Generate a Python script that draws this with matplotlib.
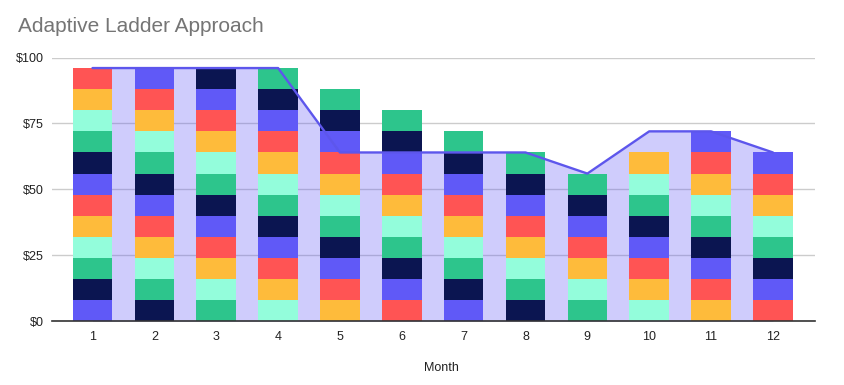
import matplotlib
matplotlib.use("Agg")
import matplotlib.pyplot as plt
import numpy as np

# ---- data ----
months = [1, 2, 3, 4, 5, 6, 7, 8, 9, 10, 11, 12]
month_labels = ["1", "2", "3", "4", "5", "6", "7", "8", "9", "10", "11", "12"]
# rungs held in each month: from first_rung to last_rung (each rung = $8)
first_rung = [1, 2, 3, 4, 5, 6, 7, 8, 9, 10, 11, 12]
last_rung = [12, 13, 14, 15, 15, 15, 15, 15, 15, 17, 19, 19]
rung_amount = 8
target_line = [96, 96, 96, 96, 64, 64, 64, 64, 56, 72, 72, 64]
y_ticks = [0, 25, 50, 75, 100]
y_tick_labels = ["$0", "$25", "$50", "$75", "$100"]
title = "Adaptive Ladder Approach"
x_title = "Month"

# ---- style ----
rung_colors = ["#6059F7", "#0B1551", "#2DC58C", "#93FDDB", "#FEBB3B", "#FF5454"]
line_color = "#5D56EC"

fig = plt.figure(figsize=(8.44, 3.85), dpi=100)
ax = fig.add_axes([52 / 844, (385 - 321.3) / 385, (815 - 52) / 844, (321.3 - 57.5) / 385])

# area behind
ax.fill_between(months, 0, target_line, color="#6059F7", alpha=0.3, linewidth=0, zorder=2)

# stacked ladder bars
n_rungs = max(last_rung)
for r in range(1, n_rungs + 1):
    vals = np.array([rung_amount if f <= r <= l else 0 for f, l in zip(first_rung, last_rung)], dtype=float)
    bottoms = np.array([rung_amount * (r - f) if f <= r <= l else 0 for f, l in zip(first_rung, last_rung)], dtype=float)
    ax.bar(months, vals, bottom=bottoms, width=0.64, color=rung_colors[(r - 1) % 6],
           linewidth=0, zorder=3)

# line
ax.plot(months, target_line, color=line_color, linewidth=1.7, zorder=4, solid_capstyle="round")

ax.set_xlim(0.345, 12.68)
ax.set_ylim(0, 100)
ax.set_yticks(y_ticks)
ax.set_yticklabels(y_tick_labels)
ax.set_xticks(months)
ax.set_xticklabels(month_labels)
ax.tick_params(axis="both", length=0, labelsize=9, labelcolor="#222222", labelfontfamily="Liberation Sans")
ax.tick_params(axis="y", pad=6)
ax.tick_params(axis="x", pad=7)
ax.yaxis.grid(True, color="#CCCCCC", linewidth=1.0, zorder=1)
ax.set_axisbelow(True)
for s in ["top", "right", "left"]:
    ax.spines[s].set_visible(False)
ax.spines["bottom"].set_color("#333333")
ax.spines["bottom"].set_linewidth(1.2)
ax.spines["bottom"].set_zorder(5)

fig.text(18 / 844, 1 - 27 / 385, title, fontsize=15, color="#757575",
         family="Liberation Sans", va="center", ha="left")
fig.text(441 / 844, 1 - 368 / 385, x_title, fontsize=9, color="#222222",
         family="Liberation Sans", va="center", ha="center")

fig.savefig("out.png", dpi=100)
